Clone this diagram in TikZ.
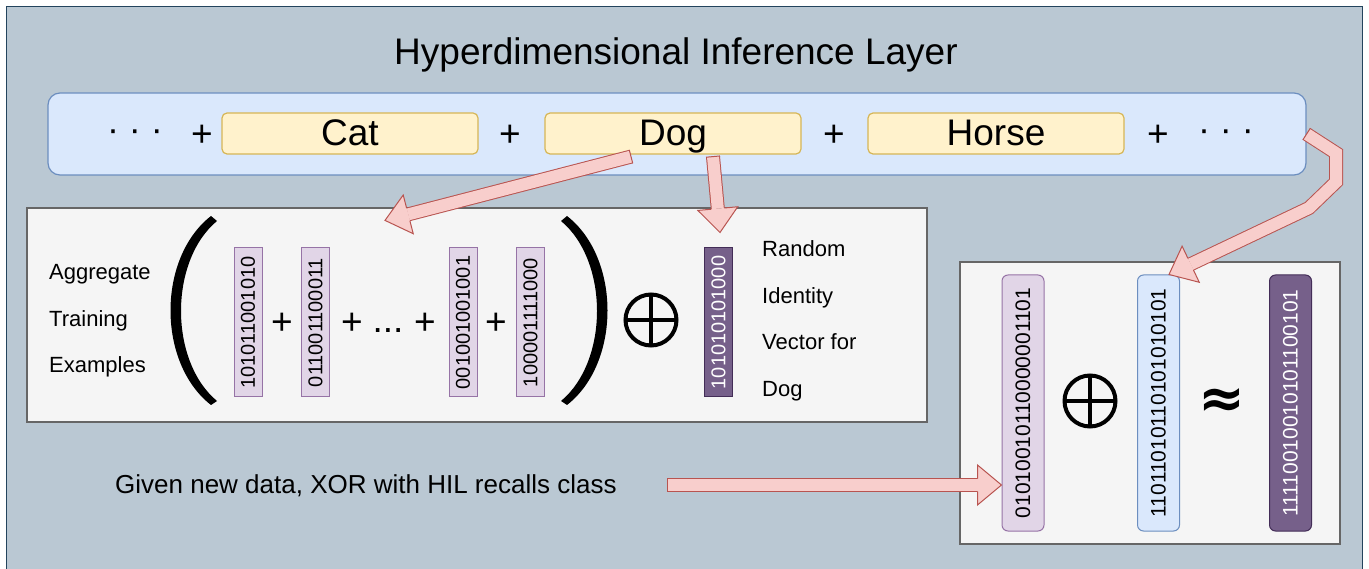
\documentclass[tikz,border=0pt]{standalone}
\usepackage{fontspec}
\usepackage{graphicx}
\setmainfont{Liberation Sans}
\newfontfamily\symfont{DejaVu Sans}
\usetikzlibrary{calc}
\definecolor{bgfill}{HTML}{BAC8D3}
\definecolor{bgline}{HTML}{23445D}
\definecolor{bluef}{HTML}{DAE8FC}
\definecolor{bluel}{HTML}{6C8EBF}
\definecolor{yelf}{HTML}{FFF2CC}
\definecolor{yell}{HTML}{D6B656}
\definecolor{grayf}{HTML}{F5F5F5}
\definecolor{grayl}{HTML}{666666}
\definecolor{purf}{HTML}{E1D5E7}
\definecolor{purl}{HTML}{9673A6}
\definecolor{dpurf}{HTML}{76608A}
\definecolor{dpurl}{HTML}{432D57}
\definecolor{pinkf}{HTML}{F8CECC}
\definecolor{pinkl}{HTML}{B85450}
\newcommand\fs[1]{\fontsize{#1}{#1}\selectfont}
\newcommand\blockarrow[5]{%
  \coordinate (hb) at ($(#5)!24pt!(#4)$);
  \draw[shaftout] (#1) #3 -- (hb);
  \draw[shaftin] (#1) #3 -- (hb);
  \draw[capst] ($(#1)!7pt!90:(#2)$) -- ($(#1)!7pt!-90:(#2)$);
  \filldraw[headst] ($(hb)!6.5pt!90:(#5)$) -- ($(hb)!20pt!90:(#5)$) -- (#5) -- ($(hb)!20pt!-90:(#5)$) -- ($(hb)!6.5pt!-90:(#5)$);
}
\tikzset{
  barst/.style={fill=bluef, draw=bluel, line width=1.2pt, rounded corners=12pt, inner sep=0pt, minimum width=1258pt, minimum height=82pt},
  classst/.style={fill=yelf, draw=yell, line width=1.2pt, rounded corners=5pt, inner sep=0pt, minimum width=256pt, minimum height=41pt, font=\fs{37}, text height=26.5pt, text depth=3pt},
  grayst/.style={fill=grayf, draw=grayl, line width=1.2pt, inner sep=0pt},
  vecl/.style={fill=purf, draw=purl, line width=1pt, inner sep=0pt, minimum width=28pt, minimum height=149pt, font=\fs{20}},
  vecd/.style={fill=dpurf, draw=dpurl, line width=1pt, inner sep=0pt, minimum width=28pt, minimum height=149pt, font=\fs{20}, text=white},
  vecrl/.style={fill=purf, draw=purl, line width=1pt, rounded corners=6pt, inner sep=0pt, minimum width=42pt, minimum height=256pt, font=\fs{21}},
  vecrb/.style={fill=bluef, draw=bluel, line width=1pt, rounded corners=6pt, inner sep=0pt, minimum width=42pt, minimum height=256pt, font=\fs{21}},
  vecrd/.style={fill=dpurf, draw=dpurl, line width=1pt, rounded corners=6pt, inner sep=0pt, minimum width=42pt, minimum height=256pt, font=\fs{21}, text=white},
  lbl/.style={font=\fs{22}, inner sep=0pt, anchor=base west},
  opst/.style={font=\fs{37}, inner sep=0pt, anchor=base},
  xorst/.style={circle, draw=black, line width=4pt, minimum size=51pt, inner sep=0pt, outer sep=0pt},
  shaftout/.style={draw=pinkl, line width=14pt, line join=miter},
  shaftin/.style={draw=pinkf, line width=12pt, line join=miter},
  capst/.style={draw=pinkl, line width=1pt},
  headst/.style={fill=pinkf, draw=pinkl, line width=1pt, line join=miter},
  paren/.style={fill=black}
}
\begin{document}
\begin{tikzpicture}[x=1pt, y=-1pt]
\useasboundingbox (0,0) rectangle (1369,569);
% background
\draw[fill=bgfill, draw=bgline, line width=1.5pt] (6.5,6.5) rectangle (1362.5,580);
\node[font=\fs{37}, anchor=base, inner sep=0pt] (title) at (676,65) {Hyperdimensional Inference Layer};
% top bar
\node[barst] (bar) at (677,134) {};
\node[font=\fs{36}, inner sep=0pt, anchor=base] (dl) at (135,141.5) {·\ ·\ ·};
\node[opst] (p1) at (202,146.5) {+};
\node[classst] (cat) at (350,133.5) {Cat};
\node[opst] (p2) at (510,146.5) {+};
\node[classst] (dog) at (673,133.5) {Dog};
\node[opst] (p3) at (834,146.5) {+};
\node[classst] (horse) at (996,133.5) {Horse};
\node[opst] (p4) at (1158,146.5) {+};
\node[font=\fs{36}, inner sep=0pt, anchor=base] (dr) at (1226,141.5) {·\ ·\ ·};
% left box
\node[grayst, minimum width=900pt, minimum height=214pt] (lbox) at (477,315) {};
\node[lbl] (l1) at (49,280) {Aggregate};
\node[lbl] (l2) at (49,327) {Training};
\node[lbl] (l3) at (49,373) {Examples};
\fill[paren] (211,216) .. controls (157,258) and (157,363) .. (211,405) -- (217,401) .. controls (169,361) and (169,261) .. (217,221) -- cycle;
\node[vecl] (e1) at (248,322.5) {\rotatebox{90}{101011001010}};
\node[opst] (m1) at (282,334.5) {+};
\node[vecl] (e2) at (315.5,322.5) {\rotatebox{90}{011001100011}};
\node[opst] (m2) at (352,334.5) {+};
\node[opst] (m3) at (388,333) {...};
\node[opst] (m4) at (425,334.5) {+};
\node[vecl] (e3) at (463,322.5) {\rotatebox{90}{001001001001}};
\node[opst] (m5) at (496,334.5) {+};
\node[vecl] (e4) at (530.5,322.5) {\rotatebox{90}{100001111000}};
\fill[paren] (567,216) .. controls (621,258) and (621,363) .. (567,405) -- (561,401) .. controls (609,361) and (609,261) .. (561,221) -- cycle;
\node[xorst] (x1) at (651,320) {};
\draw[line width=4pt] (x1.north) -- (x1.south) (x1.west) -- (x1.east);
\node[vecd] (rid) at (718.5,322.5) {\rotatebox{90}{101010101000}};
\node[lbl] (r1) at (762,257) {Random};
\node[lbl] (r2) at (762,303.5) {Identity};
\node[lbl] (r3) at (762,350) {Vector for};
\node[lbl] (r4) at (762,397) {Dog};
% right box
\node[grayst, minimum width=380pt, minimum height=282pt] (rbox) at (1150,403) {};
\node[vecrl] (qv) at (1023,403) {\rotatebox{90}{01010010110000001101}};
\node[xorst] (x2) at (1090,401) {};
\draw[line width=4pt] (x2.north) -- (x2.south) (x2.west) -- (x2.east);
\node[vecrb] (hv) at (1158.5,403) {\rotatebox{90}{11011010110101010101}};
\node[font=\symfont\bfseries\fs{56}, inner sep=0pt] (apx) at (1222,403) {≈};
\node[vecrd] (cv) at (1290.5,403) {\rotatebox{90}{11110010010101100101}};
% bottom text
\node[font=\fs{26}, inner sep=0pt, anchor=base west] (given) at (115,493) {Given new data, XOR with HIL recalls class};
% arrows
\coordinate (a1s) at ($(dog.south)+(-42,2)$);
\coordinate (a1t) at ($(lbox.north)+(-92,13)$);
\blockarrow{a1s}{a1t}{}{a1s}{a1t}
\coordinate (a2s) at ($(dog.south)+(40,2)$);
\coordinate (a2t) at ($(rid.north)+(1.5,-15)$);
\blockarrow{a2s}{a2t}{}{a2s}{a2t}
\coordinate (a3s) at (bar.east);
\coordinate (a3b) at (1336,153);
\coordinate (a3c) at (1336,182);
\coordinate (a3d) at (1309,208);
\coordinate (a3t) at ($(hv.north)+(10.5,0)$);
\blockarrow{a3s}{a3b}{-- (a3b) -- (a3c) -- (a3d)}{a3d}{a3t}
\coordinate (a4s) at (667,485);
\coordinate (a4t) at ($(qv.west)+(0,82)$);
\blockarrow{a4s}{a4t}{}{a4s}{a4t}
\end{tikzpicture}
\end{document}
